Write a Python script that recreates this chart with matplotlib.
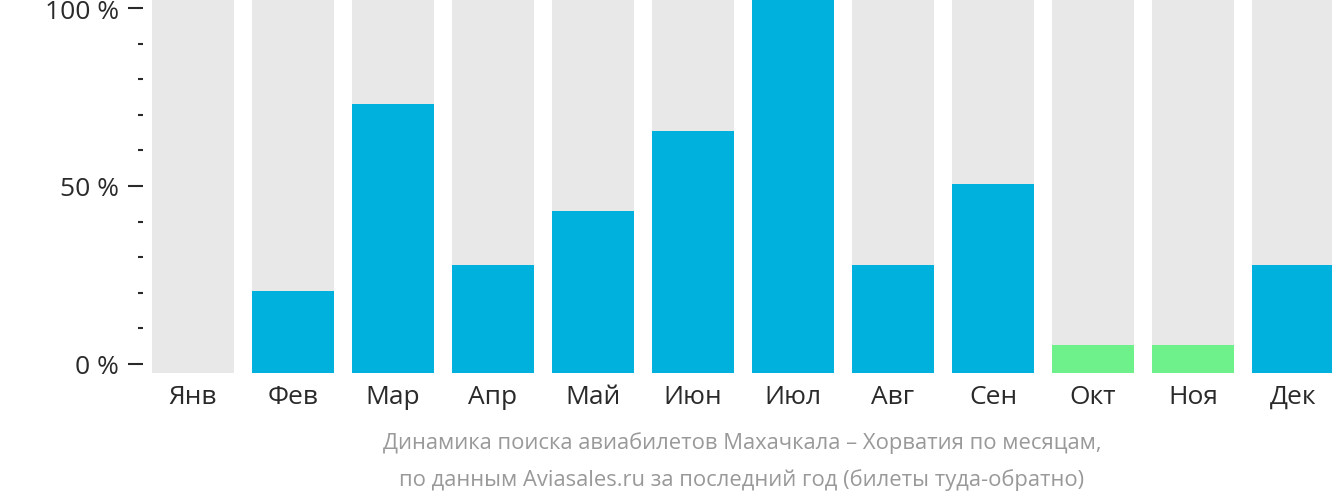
import numpy as np
import matplotlib.pyplot as plt
from matplotlib.ticker import MultipleLocator

plt.rcParams['font.family'] = ['Open Sans', 'DejaVu Sans']

months = ['Янв', 'Фев', 'Мар', 'Апр', 'Май', 'Июн',
          'Июл', 'Авг', 'Сен', 'Окт', 'Ноя', 'Дек']
values = [0, 20.5, 73.0, 27.8, 43.0, 65.4, 102.5, 27.8, 50.6, 5.3, 5.3, 27.8]
low_season = ['Окт', 'Ноя']

blue = '#00b1dd'
green = '#6ef08a'
back = '#e8e8e8'

bottom = -2.53
top = 102.53

fig = plt.figure(figsize=(13.32, 5.02), dpi=100)
ax = fig.add_axes([143 / 1332, 1 - 374 / 502, (1332 - 143) / 1332, 374 / 502])

x = np.arange(len(months))
ax.bar(x, [top - bottom] * len(x), bottom=bottom, width=0.82, color=back, zorder=1)
for xi, m, v in zip(x, months, values):
    if v <= 0:
        continue
    c = green if m in low_season else blue
    ax.bar(xi, v - bottom, bottom=bottom, width=0.82, color=c, zorder=2)

ax.set_xlim(-0.5, 11.39)
ax.set_ylim(bottom, top)
for s in ax.spines.values():
    s.set_visible(False)

ax.set_xticks(x)
ax.set_xticklabels(months)
ax.tick_params(axis='x', length=0, pad=8, labelsize=19, labelcolor='#2a2a2a')

ax.set_yticks([0, 50, 100])
ax.set_yticklabels(['0 %', '50 %', '100 %'])
ax.yaxis.set_minor_locator(MultipleLocator(10))
ax.tick_params(axis='y', which='major', length=10.5, width=1.5, pad=7,
               labelsize=19, labelcolor='#2a2a2a', color='#2a2a2a')
ax.tick_params(axis='y', which='minor', length=3.8, width=1.5, color='#2a2a2a')

fig.text(742 / 1332, 1 - 443 / 502,
         'Динамика поиска авиабилетов Махачкала – Хорватия по месяцам,',
         ha='center', va='center', fontsize=15.8, color='#999999')
fig.text(742 / 1332, 1 - 480 / 502,
         'по данным Aviasales.ru за последний год (билеты туда-обратно)',
         ha='center', va='center', fontsize=15.8, color='#999999')

fig.savefig('out.png', dpi=100)
